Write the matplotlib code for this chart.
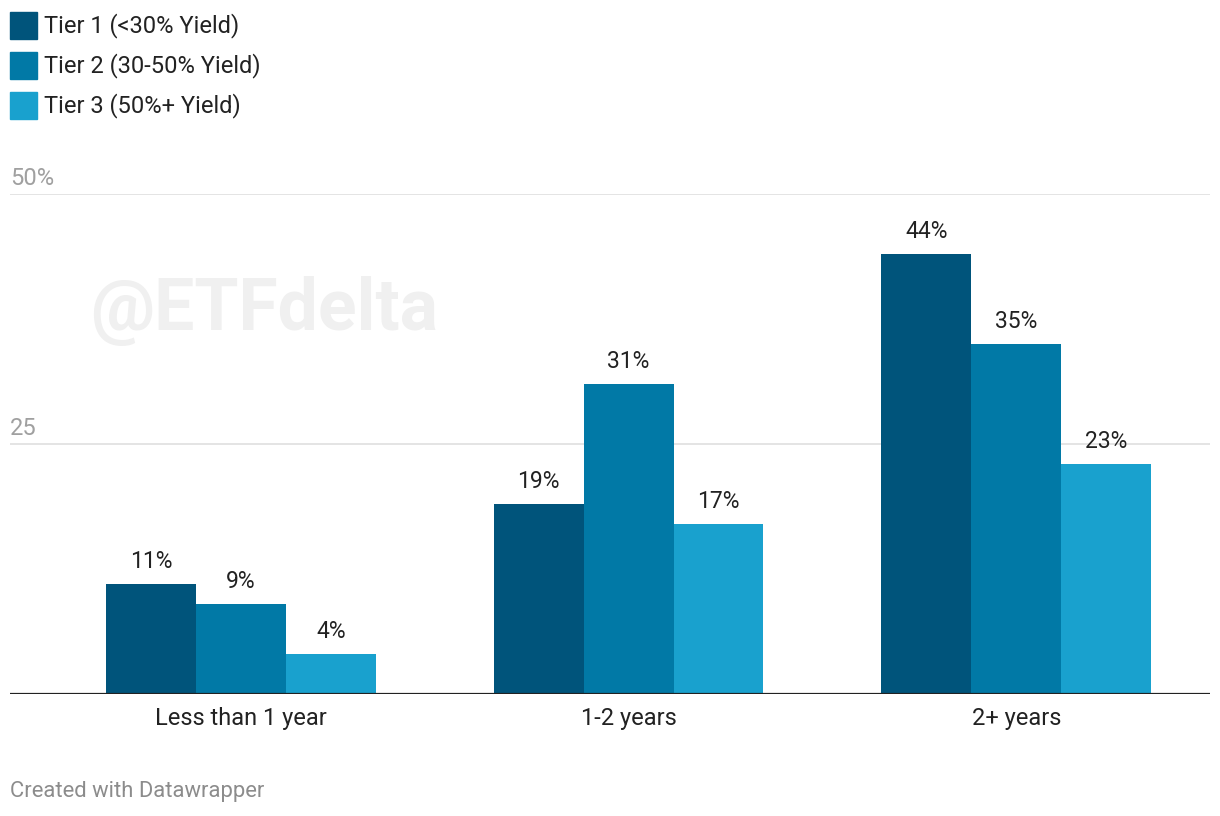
import matplotlib
matplotlib.use("Agg")
import matplotlib.pyplot as plt
from matplotlib.patches import Rectangle
import numpy as np

plt.rcParams['font.family'] = ['Roboto', 'DejaVu Sans']

# data
categories = ['Less than 1 year', '1-2 years', '2+ years']
series = ['Tier 1 (<30% Yield)', 'Tier 2 (30-50% Yield)', 'Tier 3 (50%+ Yield)']
tier1 = [11, 19, 44]
tier2 = [9, 31, 35]
tier3 = [4, 17, 23]
yticks = [25, 50]
ytick_labels = ['25', '50%']

values = [tier1, tier2, tier3]
colors = ['#00547b', '#0179a6', '#19a1ce']

W, H = 1220, 816
fig = plt.figure(figsize=(W / 100, H / 100), dpi=100)
ax = fig.add_axes([10 / W, 122 / H, 1200 / W, 500 / H])

x = np.arange(len(categories))
bw = 0.232
for i, (vals, col) in enumerate(zip(values, colors)):
    pos = x + (i - 1) * bw
    bars = ax.bar(pos, vals, width=bw, color=col, zorder=3)
    for b, v in zip(bars, vals):
        ax.annotate(f'{v}%', (b.get_x() + b.get_width() / 2, v),
                    xytext=(0, 8), textcoords='offset points',
                    ha='center', va='bottom', fontsize=16.5, color='#222222')

ax.set_xlim(-0.596, 2.5)
ax.set_ylim(0, 50)

# gridlines and y labels
for v, lab in zip(yticks, ytick_labels):
    ax.axhline(v, color='#e4e4e4', lw=1.4, zorder=1)
    ax.annotate(lab, (0, v), xycoords=('axes fraction', 'data'),
                xytext=(0, 3), textcoords='offset points',
                ha='left', va='bottom', fontsize=17, color='#a0a0a0')
ax.set_yticks([])
ax.axhline(0, color='#222222', lw=1.6, zorder=4)

ax.set_xticks(x)
ax.set_xticklabels(categories, fontsize=17, color='#222222')
ax.tick_params(axis='x', length=0, pad=9)
for s in ax.spines.values():
    s.set_visible(False)

# watermark
fig.text(90 / W, 1 - 311 / H, '@ETFdelta', fontsize=51.5, fontweight='bold',
         color='#f0f0f0', ha='left', va='center', zorder=0)

# legend
for i, (name, col) in enumerate(zip(series, colors)):
    top = 12 + i * 40
    fig.patches.append(Rectangle((10 / W, 1 - (top + 27) / H), 27 / W, 27 / H,
                                 transform=fig.transFigure, color=col))
    fig.text(44 / W, 1 - (top + 13.5) / H, name, fontsize=17,
             color='#222222', ha='left', va='center')

fig.text(10 / W, 1 - 791 / H, 'Created with Datawrapper', fontsize=15.8,
         color='#8c8c8c', ha='left', va='center')

fig.savefig('out.png', dpi=100, facecolor='white')
